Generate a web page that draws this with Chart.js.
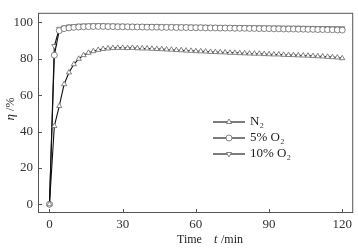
<!DOCTYPE html>
<html>
<head>
<meta charset="utf-8">
<script src="https://cdn.jsdelivr.net/npm/chart.js@4.4.1/dist/chart.umd.min.js"></script>
<style>
  html, body { margin: 0; padding: 0; background: #fff; }
  #wrap { width: 358px; height: 251px; }
</style>
</head>
<body>
<div id="wrap"><canvas id="chart_eta"></canvas></div>
<script>
// time axis, min
var times = [0, 2, 4, 6, 8, 10, 12, 14, 16, 18, 20, 22, 24, 26, 28, 30, 32, 34, 36, 38, 40,
  42, 44, 46, 48, 50, 52, 54, 56, 58, 60, 62, 64, 66, 68, 70, 72, 74, 76, 78, 80,
  82, 84, 86, 88, 90, 92, 94, 96, 98, 100, 102, 104, 106, 108, 110, 112, 114, 116, 118, 120];

var etaN2 = [0, 43, 54, 66, 72.5, 77, 80, 82, 83.3, 84.2, 84.9, 85.4, 85.7, 85.9, 86, 86, 85.9, 86, 85.8, 85.7, 85.7,
  85.5, 85.4, 85.3, 85.1, 85, 84.8, 84.7, 84.5, 84.4, 84.2, 84.1, 84, 83.8, 83.7, 83.6, 83.5, 83.3, 83.3, 83.1, 83,
  82.9, 82.8, 82.8, 82.6, 82.5, 82.4, 82.4, 82.2, 82.1, 82, 81.9, 81.8, 81.7, 81.5, 81.4, 81.3, 81.1, 80.9, 80.7, 80.3];

var eta5O2 = [0, 82, 95.5, 96.6, 97, 97.3, 97.5, 97.6, 97.7, 97.8, 97.8, 97.8, 97.7, 97.7, 97.6, 97.6, 97.6, 97.5, 97.5, 97.5, 97.4,
  97.4, 97.4, 97.3, 97.3, 97.3, 97.2, 97.2, 97.2, 97.1, 97.1, 97.1, 97, 97, 97, 96.9, 96.9, 96.9, 96.8, 96.8, 96.8,
  96.7, 96.7, 96.6, 96.6, 96.6, 96.5, 96.5, 96.4, 96.4, 96.4, 96.3, 96.3, 96.2, 96.2, 96.1, 96.1, 96, 96, 95.9, 95.8];

var eta10O2 = [0, 87, 96.5, 97.3, 97.8, 98, 98.2, 98.3, 98.4, 98.4, 98.4, 98.4, 98.3, 98.3, 98.2, 98.2, 98.1, 98.1, 98, 98, 98,
  97.9, 97.9, 97.9, 97.8, 97.8, 97.8, 97.7, 97.7, 97.7, 97.6, 97.6, 97.6, 97.5, 97.5, 97.5, 97.5, 97.4, 97.4, 97.4, 97.4,
  97.3, 97.3, 97.3, 97.3, 97.2, 97.2, 97.2, 97.1, 97.1, 97.1, 97.1, 97, 97, 97, 96.9, 96.9, 96.9, 96.8, 96.8, 96.8];

var xTicks = [0, 30, 60, 90, 120];
var yTicks = [0, 20, 40, 60, 80, 100];
var seriesLabels = ['N\u2082', '5% O\u2082', '10% O\u2082'];

var SERIF = '"Liberation Serif", "DejaVu Serif", serif';

function pts(ys) {
  return times.map(function (t, i) { return { x: t, y: ys[i] }; });
}

function ds(label, ys, style, rot) {
  return {
    label: label,
    data: pts(ys),
    borderColor: '#111',
    borderWidth: 1.1,
    pointStyle: style,
    rotation: rot,
    pointRadius: 3,
    pointBorderColor: '#666',
    pointBorderWidth: 0.8,
    pointBackgroundColor: '#fff',
    tension: 0
  };
}

var frame = {
  id: 'frame',
  afterDraw: function (chart) {
    var ctx = chart.ctx, a = chart.chartArea;
    var xs = chart.scales.x, ys = chart.scales.y;
    ctx.save();
    ctx.strokeStyle = '#555';
    ctx.lineWidth = 1;
    ctx.strokeRect(a.left + 0.5, a.top + 0.5, a.right - a.left - 1, a.bottom - a.top - 1);
    // inward ticks
    ctx.beginPath();
    xTicks.forEach(function (v) {
      var px = Math.round(xs.getPixelForValue(v)) + 0.5;
      ctx.moveTo(px, a.bottom);
      ctx.lineTo(px, a.bottom - 4);
    });
    yTicks.forEach(function (v) {
      var py = Math.round(ys.getPixelForValue(v)) + 0.5;
      ctx.moveTo(a.left, py);
      ctx.lineTo(a.left + 4, py);
    });
    ctx.stroke();

    // legend
    var lx = 213, ly = 122;
    chart.data.datasets.forEach(function (d, i) {
      var y = ly + i * 16;
      ctx.strokeStyle = '#111';
      ctx.lineWidth = 1.1;
      ctx.beginPath();
      ctx.moveTo(lx, y);
      ctx.lineTo(lx + 32, y);
      ctx.stroke();
      ctx.fillStyle = '#fff';
      ctx.strokeStyle = '#666';
      ctx.lineWidth = 0.8;
      Chart.helpers.drawPoint(ctx, { pointStyle: d.pointStyle, rotation: d.rotation, radius: 3, borderWidth: 0.8 }, lx + 16, y);
      ctx.fillStyle = '#222';
      ctx.font = '13px ' + SERIF;
      ctx.textAlign = 'left';
      ctx.textBaseline = 'middle';
      ctx.fillText(d.label, lx + 37, y);
    });

    // axis titles
    ctx.fillStyle = '#222';
    ctx.textBaseline = 'alphabetic';
    ctx.font = '12px ' + SERIF;
    ctx.textAlign = 'left';
    ctx.fillText('Time', 177, 243);
    ctx.font = 'italic 12px ' + SERIF;
    ctx.fillText('t', 214, 243);
    ctx.font = '12px ' + SERIF;
    ctx.fillText(' /min', 218, 243);

    ctx.translate(11, 109);
    ctx.rotate(-Math.PI / 2);
    ctx.textBaseline = 'middle';
    ctx.font = 'italic 13px ' + SERIF;
    var w1 = ctx.measureText('\u03B7').width;
    ctx.font = '12px ' + SERIF;
    var w2 = ctx.measureText(' /%').width;
    ctx.textAlign = 'left';
    ctx.font = 'italic 13px ' + SERIF;
    ctx.fillText('\u03B7', -(w1 + w2) / 2, 0);
    ctx.font = '12px ' + SERIF;
    ctx.fillText(' /%', -(w1 + w2) / 2 + w1, 0);
    ctx.restore();
  }
};

var chart_eta = new Chart(document.getElementById('chart_eta'), {
  type: 'line',
  data: {
    datasets: [
      ds(seriesLabels[0], etaN2, 'triangle', 0),
      ds(seriesLabels[1], eta5O2, 'circle', 0),
      ds(seriesLabels[2], eta10O2, 'triangle', 180)
    ]
  },
  options: {
    animation: false,
    responsive: true,
    maintainAspectRatio: false,
    layout: { padding: { left: 0, right: 4, top: 5, bottom: 0 } },
    plugins: {
      legend: { display: false },
      tooltip: { enabled: false }
    },
    scales: {
      x: {
        type: 'linear',
        min: -4.7,
        max: 124.5,
        afterBuildTicks: function (s) { s.ticks = xTicks.map(function (v) { return { value: v }; }); },
        afterFit: function (s) { s.height = 38; },
        grid: { display: false, drawTicks: false },
        border: { display: false },
        ticks: { color: '#333', padding: 4, maxRotation: 0, font: { family: SERIF, size: 13 } }
      },
      y: {
        min: -4.8,
        max: 105.3,
        afterBuildTicks: function (s) { s.ticks = yTicks.map(function (v) { return { value: v }; }); },
        afterFit: function (s) { s.width = 38; },
        grid: { display: false, drawTicks: false },
        border: { display: false },
        ticks: { color: '#333', padding: 5, font: { family: SERIF, size: 13 } }
      }
    }
  },
  plugins: [frame]
});
</script>
</body>
</html>
